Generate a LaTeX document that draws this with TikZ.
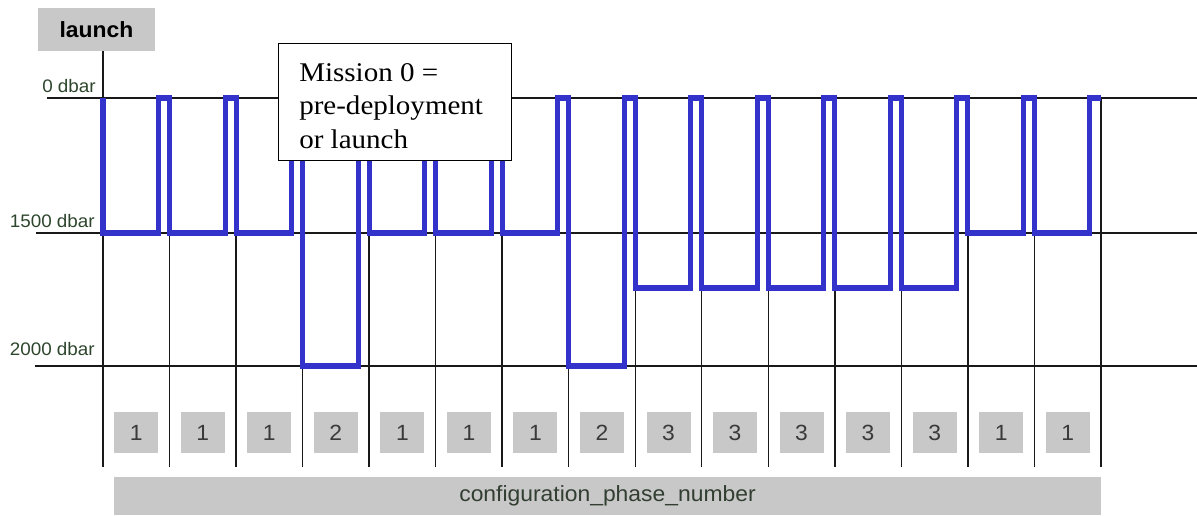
\documentclass[tikz,border=0pt]{standalone}
\usepackage{fontspec}
\newfontfamily\arialf[FakeStretch=1.04]{Liberation Sans}
\newfontfamily\timesf[FakeStretch=1.075]{Liberation Serif}
\definecolor{boxgray}{RGB}{200,200,200}
\definecolor{profblue}{RGB}{51,51,204}
\definecolor{labgreen}{RGB}{45,70,45}
\definecolor{digitgray}{RGB}{58,58,58}
\definecolor{cfgtext}{RGB}{50,62,50}
\begin{document}
\begin{tikzpicture}[x=0.75pt,y=-0.75pt,
  grid/.style={black!90, line width=1.05pt},
  profile/.style={profblue, line width=3.8pt, line join=miter},
  depthlabel/.style={anchor=base east, inner sep=0pt, text=labgreen, font=\arialf\fontsize{13.6pt}{16pt}\selectfont},
  graybox/.style={fill=boxgray, draw=none, inner sep=0pt},
  digitbox/.style={graybox, minimum width=33pt, minimum height=30.75pt, text=digitgray, font=\arialf\fontsize{16.5pt}{18pt}\selectfont},
  mtext/.style={anchor=base west, inner sep=0pt, font=\timesf\fontsize{20.25pt}{25pt}\selectfont}
]
\useasboundingbox (0,0) rectangle (1197,515);

% launch box
\node[graybox, minimum width=87.75pt, minimum height=32.25pt, font=\arialf\bfseries\fontsize{16.5pt}{18pt}\selectfont] (launch) at (96.5,29.5) {launch};

% horizontal depth lines
\coordinate (h0a) at (47,98);   \coordinate (h0b) at (1197,98);
\coordinate (h1a) at (36,233);  \coordinate (h1b) at (1197,233);
\coordinate (h2a) at (35,366);  \coordinate (h2b) at (1197,366);
\draw[grid] (h0a) -- (h0b);
\draw[grid] (h1a) -- (h1b);
\draw[grid] (h2a) -- (h2b);

% depth labels
\node[depthlabel] (l0) at (96,92) {0 dbar};
\node[depthlabel] (l1) at (95,227) {1500 dbar};
\node[depthlabel] (l2) at (95,355) {2000 dbar};

% vertical column lines
\coordinate (v0b) at (103,467);
\draw[grid] (launch.south -| v0b) -- (v0b);
\foreach \k/\d in {1/233,2/233,3/366,4/233,5/233,6/233,7/366,8/288,9/288,10/288,11/288,12/288,13/233,14/233,15/98}{
  \coordinate (vt\k) at ({103+66.53*\k},\d);
  \coordinate (vb\k) at ({103+66.53*\k},467);
  \draw[grid] (vt\k) -- (vb\k);
}

% blue profile
\draw[profile] (103,98)
  \foreach \k/\d in {0/233,1/233,2/233,3/366,4/233,5/233,6/233,7/366,8/288,9/288,10/288,11/288,12/288,13/233,14/233}{
    -- ({103+66.53*\k},\d) -- ({103+66.53*(\k+1)-11},\d) -- ({103+66.53*(\k+1)-11},98) -- ({103+66.53*(\k+1)},98)
  };

% phase number boxes
\foreach \k/\n in {0/1,1/1,2/1,3/2,4/1,5/1,6/1,7/2,8/3,9/3,10/3,11/3,12/3,13/1,14/1}{
  \node[digitbox] (p\k) at ({103+66.53*\k+33.26},432.5) {\n};
}

% configuration bar
\node[graybox, minimum width=740.25pt, minimum height=28.5pt, text=cfgtext, font=\arialf\fontsize{16.5pt}{18pt}\selectfont] (cfg) at (607.5,496) {configuration\_phase\_number};

% mission note
\node[draw=black, fill=white, line width=1.1pt, minimum width=174.75pt, minimum height=87.75pt, anchor=north west, inner sep=0pt] (mbox) at (278,43) {};
\node[mtext] (m1) at (299,81) {Mission 0 =};
\node[mtext] (m2) at (299,114.5) {pre-deployment};
\node[mtext] (m3) at (299,148) {or launch};
\end{tikzpicture}
\end{document}
